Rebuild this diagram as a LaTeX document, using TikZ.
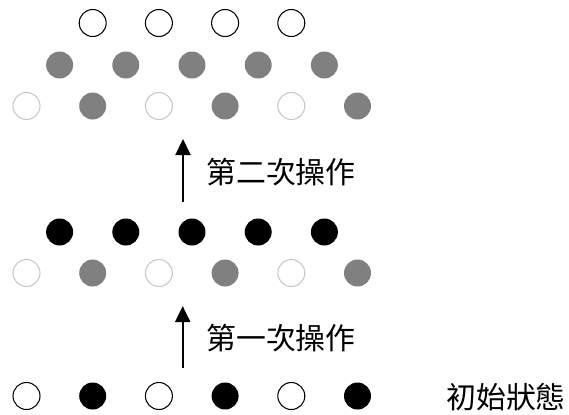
\documentclass[tikz,border=0pt]{standalone}
\usepackage{fontspec}
\newfontfamily\cjk{Noto Sans CJK TC}
\usetikzlibrary{arrows.meta}
\begin{document}
\begin{tikzpicture}[x=0.02cm, y=-0.02cm,
    stone/.style ={circle, minimum size=0.54cm, inner sep=0pt, line width=0.6pt},
    openstone/.style ={stone, draw=black, fill=white},
    faintstone/.style ={stone, draw=black!22, fill=white},
    graystone/.style ={stone, fill=black!50},
    blackstone/.style ={stone, fill=black},
    steptext/.style ={anchor=west, inner sep=0pt, font=\cjk\fontsize{17}{20}\selectfont}]
   \useasboundingbox (0,0) rectangle (569,414);
   % initial state
   \node[openstone] (A1) at (26.5,396) {};
   \node[blackstone] (A2) at (92.7,396) {};
   \node[openstone] (A3) at (158.9,396) {};
   \node[blackstone] (A4) at (225.1,396) {};
   \node[openstone] (A5) at (291.3,396) {};
   \node[blackstone] (A6) at (357.5,396) {};
   \node[steptext] (T0) at (446,397) {初始狀態};
   % after the first step
   \node[faintstone] (B1) at (26.5,273) {};
   \node[graystone] (B2) at (92.7,273) {};
   \node[faintstone] (B3) at (158.9,273) {};
   \node[graystone] (B4) at (225.1,273) {};
   \node[faintstone] (B5) at (291.3,273) {};
   \node[graystone] (B6) at (357.5,273) {};
   \node[blackstone] (C1) at (59.6,232) {};
   \node[blackstone] (C2) at (125.8,232) {};
   \node[blackstone] (C3) at (192,232) {};
   \node[blackstone] (C4) at (258.2,232) {};
   \node[blackstone] (C5) at (324.4,232) {};
   % after the second step
   \node[faintstone] (D1) at (26.5,106) {};
   \node[graystone] (D2) at (92.7,106) {};
   \node[faintstone] (D3) at (158.9,106) {};
   \node[graystone] (D4) at (225.1,106) {};
   \node[faintstone] (D5) at (291.3,106) {};
   \node[graystone] (D6) at (357.5,106) {};
   \node[graystone] (E1) at (59.6,65) {};
   \node[graystone] (E2) at (125.8,65) {};
   \node[graystone] (E3) at (192,65) {};
   \node[graystone] (E4) at (258.2,65) {};
   \node[graystone] (E5) at (324.4,65) {};
   \node[openstone] (F1) at (92.7,23) {};
   \node[openstone] (F2) at (158.9,23) {};
   \node[openstone] (F3) at (225.1,23) {};
   \node[openstone] (F4) at (291.3,23) {};
   % arrows
   \coordinate (P1) at (182.7,368);
   \coordinate (Q1) at (182.7,306);
   \coordinate (P2) at (183,202);
   \coordinate (Q2) at (183,139);
   \draw[line width=1.2pt, -{Triangle[width=0.3cm, length=0.32cm]}] (P1) to (Q1);
   \draw[line width=1.2pt, -{Triangle[width=0.3cm, length=0.32cm]}] (P2) to (Q2);
   \node[steptext] (T1) at (206,338) {第一次操作};
   \node[steptext] (T2) at (206,172) {第二次操作};
\end{tikzpicture}
\end{document}
